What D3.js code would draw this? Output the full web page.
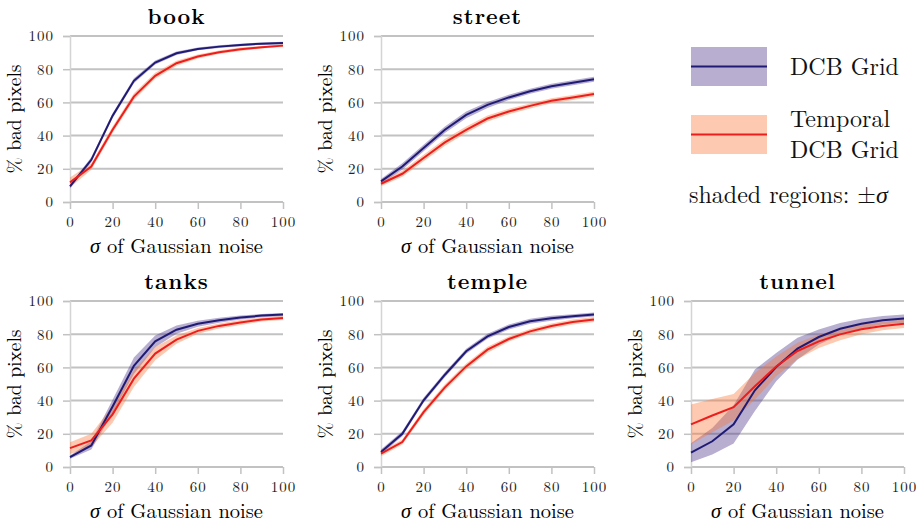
<!DOCTYPE html>
<html lang="en">
<head>
<meta charset="UTF-8">
<title>bad pixels vs noise</title>
<script src="https://cdn.jsdelivr.net/npm/d3@7/dist/d3.min.js"></script>
<style>
    body { margin: 0; background: white; }
</style>
</head>
<body>
<div id="chart"></div>
<script>
// noise levels (sigma of gaussian noise)
const sigmas = [0, 10, 20, 30, 40, 50, 60, 70, 80, 90, 100];
const xTicks = [0, 20, 40, 60, 80, 100];
const yTicks = [0, 20, 40, 60, 80, 100];
const scenes = ["book", "street", "tanks", "temple", "tunnel"];

// mean % bad pixels, DCB Grid
const bookGrid = [9.4, 25.4, 52, 73, 84, 89.6, 92.2, 93.6, 94.6, 95.4, 95.8];
const streetGrid = [12.4, 21.4, 32.5, 43.5, 52.5, 58.5, 63, 66.7, 69.7, 71.9, 74];
const tanksGrid = [6, 13, 36.5, 61, 75.7, 82.7, 86.3, 88.4, 90, 91.2, 91.8];
const templeGrid = [9, 20, 40.2, 55.6, 69.7, 78.7, 84.3, 87.8, 89.6, 90.8, 91.8];
const tunnelGrid = [8.6, 15.5, 25.7, 46.2, 60.2, 71.3, 78.3, 83.3, 86.3, 88.4, 89.4];

// std dev, DCB Grid
const bookGridSd = [1.2, 1.5, 1.5, 1.5, 1.2, 1, 0.8, 0.8, 0.7, 0.7, 0.7];
const streetGridSd = [1.5, 2, 2, 2, 2, 1.8, 1.6, 1.5, 1.5, 1.5, 1.5];
const tanksGridSd = [1, 2.5, 4, 5, 3.5, 2.5, 1.8, 1.5, 1.2, 1, 1];
const templeGridSd = [1.5, 1.5, 1.5, 1.5, 1.5, 1.5, 1.5, 1.5, 1.5, 1.2, 1.2];
const tunnelGridSd = [5.7, 8, 11.5, 12.5, 8.5, 6.5, 4.5, 3.5, 3, 2.5, 2.5];

// mean % bad pixels, Temporal DCB Grid
const bookTemporal = [11.8, 21.4, 43.5, 63.5, 76, 83.6, 87.6, 90.2, 92, 93.2, 94.2];
const streetTemporal = [11, 17, 26.5, 35.9, 43.5, 50.3, 54.5, 57.9, 61, 63, 65.1];
const tanksTemporal = [11.4, 16, 31.7, 53.2, 68.3, 76.7, 82, 85, 87.1, 88.8, 89.8];
const templeTemporal = [8, 15, 33, 48, 60.6, 70.7, 77.1, 81.7, 84.9, 87.3, 88.8];
const tunnelTemporal = [25.7, 31, 36, 48.6, 60.6, 69.9, 75.7, 79.9, 83, 84.9, 86.3];

// std dev, Temporal DCB Grid
const bookTemporalSd = [3, 2, 2, 2, 1.8, 1.5, 1.2, 1, 1, 0.8, 0.8];
const streetTemporalSd = [1.5, 1.8, 2, 2, 2, 1.8, 1.6, 1.5, 1.5, 1.5, 1.5];
const tanksTemporalSd = [3.5, 4, 5, 5, 4, 2.5, 1.8, 1.5, 1.5, 1.2, 1.2];
const templeTemporalSd = [1.5, 1.5, 1.8, 1.8, 1.8, 1.8, 1.5, 1.5, 1.5, 1.5, 1.5];
const tunnelTemporalSd = [12, 10, 8, 8, 6, 5, 4, 3.5, 3, 2.5, 2.5];

const gridMeans = [bookGrid, streetGrid, tanksGrid, templeGrid, tunnelGrid];
const gridSds = [bookGridSd, streetGridSd, tanksGridSd, templeGridSd, tunnelGridSd];
const tempMeans = [bookTemporal, streetTemporal, tanksTemporal, templeTemporal, tunnelTemporal];
const tempSds = [bookTemporalSd, streetTemporalSd, tanksTemporalSd, templeTemporalSd, tunnelTemporalSd];

const width = 921, height = 523;
const pw = 213, ph = 166;
// top-left of each plot area
const origins = [[70, 36], [381, 36], [70, 301], [381, 301], [691, 301]];
const serif = '"Latin Modern Roman", "CMU Serif", "Liberation Serif", serif';

const colors = {
    grid: { line: "#1f1b75", band: "rgb(75,52,137)" },
    temporal: { line: "#ee1d1d", band: "rgb(250,120,57)" }
};
const bandOpacity = 0.4;

const svg = d3.select("#chart").append("svg")
    .attr("width", width)
    .attr("height", height);

const x = d3.scaleLinear().domain([0, 100]).range([0, pw]);
const y = d3.scaleLinear().domain([0, 100]).range([ph, 0]);

const line = d3.line()
    .x((d, i) => x(sigmas[i]))
    .y(d => y(d));

function band(mean, sd) {
    return d3.area()
        .x((d, i) => x(sigmas[i]))
        .y0((d, i) => y(mean[i] - sd[i]))
        .y1((d, i) => y(mean[i] + sd[i]))(mean);
}

scenes.forEach((name, k) => {
    const [ox, oy] = origins[k];
    const g = svg.append("g").attr("transform", `translate(${ox},${oy})`);

    // horizontal grid
    g.append("g")
        .selectAll("line")
        .data(yTicks)
        .join("line")
        .attr("x1", 0).attr("x2", pw)
        .attr("y1", d => y(d)).attr("y2", d => y(d))
        .attr("stroke", "#c2c2c2")
        .attr("stroke-width", 2);

    const yAxis = g.append("g")
        .call(d3.axisLeft(y).tickValues(yTicks).tickSize(7).tickPadding(9));
    yAxis.select(".domain").attr("stroke", "#d4d4d4").attr("stroke-width", 1.5);
    yAxis.selectAll(".tick line").attr("stroke", "#c2c2c2").attr("stroke-width", 1.5);

    const xAxis = g.append("g")
        .attr("transform", `translate(0,${ph})`)
        .call(d3.axisBottom(x).tickValues(xTicks).tickSize(7).tickPadding(7));
    xAxis.select(".domain").remove();
    xAxis.selectAll(".tick line").attr("stroke", "#c2c2c2").attr("stroke-width", 1.5);
    g.selectAll(".tick text")
        .style("font-family", serif)
        .style("font-size", "15px")
        .style("letter-spacing", "1px")
        .attr("fill", "#222");

    // shaded +- sigma bands
    g.append("path")
        .attr("d", band(gridMeans[k], gridSds[k]))
        .attr("fill", colors.grid.band)
        .attr("fill-opacity", bandOpacity);
    g.append("path")
        .attr("d", band(tempMeans[k], tempSds[k]))
        .attr("fill", colors.temporal.band)
        .attr("fill-opacity", bandOpacity);

    g.append("path")
        .attr("d", line(gridMeans[k]))
        .attr("fill", "none")
        .attr("stroke", colors.grid.line)
        .attr("stroke-width", 2);
    g.append("path")
        .attr("d", line(tempMeans[k]))
        .attr("fill", "none")
        .attr("stroke", colors.temporal.line)
        .attr("stroke-width", 2);

    g.append("text")
        .attr("x", pw / 2).attr("y", -12)
        .attr("text-anchor", "middle")
        .style("font-family", serif)
        .style("font-weight", "bold")
        .style("font-size", "22px")
        .style("letter-spacing", "1px")
        .text(name);

    const xt = g.append("text")
        .attr("x", pw / 2).attr("y", ph + 51)
        .attr("text-anchor", "middle")
        .style("font-family", serif)
        .style("font-size", "20.5px");
    xt.append("tspan").style("font-style", "italic").text("σ");
    xt.append("tspan").text(" of Gaussian noise");

    g.append("text")
        .attr("transform", `translate(-49,${ph / 2}) rotate(-90)`)
        .attr("text-anchor", "middle")
        .style("font-family", serif)
        .style("font-size", "19.5px")
        .text("% bad pixels");
});

// legend
const legend = svg.append("g");
const swatches = [
    { c: colors.grid, y: 47, lines: ["DCB Grid"] },
    { c: colors.temporal, y: 115, lines: ["Temporal", "DCB Grid"] }
];
swatches.forEach(s => {
    legend.append("rect")
        .attr("x", 691).attr("y", s.y)
        .attr("width", 76).attr("height", 39)
        .attr("fill", s.c.band)
        .attr("fill-opacity", bandOpacity);
    legend.append("line")
        .attr("x1", 691).attr("x2", 767)
        .attr("y1", s.y + 19.5).attr("y2", s.y + 19.5)
        .attr("stroke", s.c.line)
        .attr("stroke-width", 2);
    const t = legend.append("text").attr("x", 790);
    if (s.lines.length === 1) {
        t.attr("y", s.y + 28).text(s.lines[0]);
    } else {
        t.append("tspan").attr("x", 790).attr("y", s.y + 12).text(s.lines[0]);
        t.append("tspan").attr("x", 790).attr("y", s.y + 43).text(s.lines[1]);
    }
});
const sh = legend.append("text")
    .attr("x", 689).attr("y", 203);
sh.append("tspan").text("shaded regions: ±");
sh.append("tspan").style("font-style", "italic").text("σ");
legend.selectAll("text")
    .style("font-family", serif)
    .style("font-size", "24px")
    .attr("fill", "#111");
</script>
</body>
</html>
